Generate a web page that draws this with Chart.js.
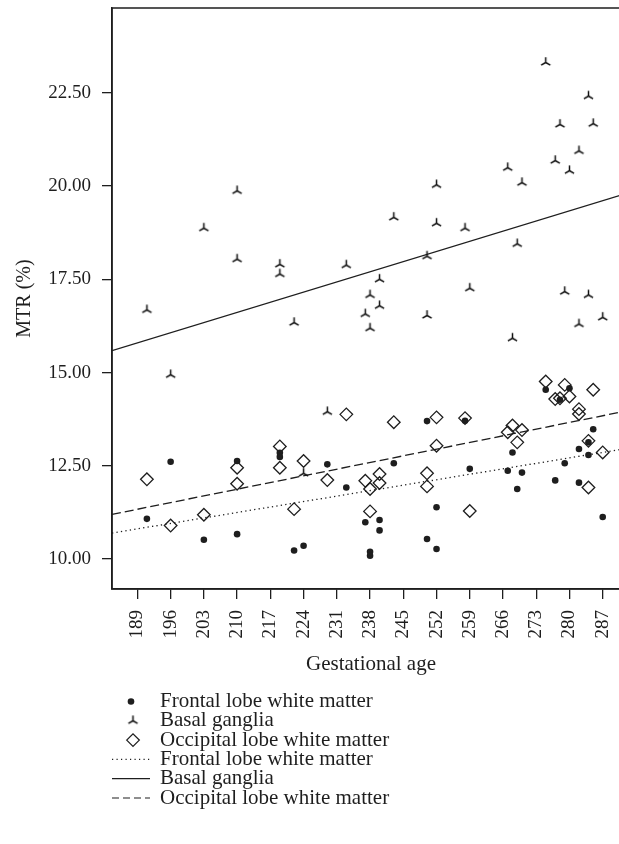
<!DOCTYPE html>
<html>
<head>
<meta charset="utf-8">
<script src="https://cdn.jsdelivr.net/npm/chart.js@4/dist/chart.umd.min.js"></script>
<style>
html,body{margin:0;padding:0;background:#fff;overflow:hidden;}
#wrap{width:640px;height:844px;}
</style>
</head>
<body>
<div id="wrap"><canvas id="c" width="640" height="844"></canvas></div>
<script>
// ---- data ----
const ages = [191,196,203,210,210,219,219,222,224,229,233,237,238,238,240,240,243,250,250,252,252,258,259,267,268,269,270,275,277,278,279,280,282,282,284,284,285,287];
const frontal = [11.08,12.61,10.52,12.63,10.67,12.85,12.74,10.23,10.36,12.54,11.92,10.99,10.20,10.09,11.05,10.77,12.57,13.70,10.54,11.39,10.27,13.71,12.42,12.37,12.86,11.88,12.32,14.54,12.11,14.27,12.57,14.58,12.95,12.05,13.13,12.79,13.48,11.13];
const basal = [16.68,14.94,18.87,19.87,18.04,17.90,17.64,16.34,12.30,13.95,17.88,16.57,17.08,16.19,17.50,16.79,19.16,18.12,16.53,20.03,19.00,18.87,17.26,20.49,15.92,18.45,20.09,23.31,20.68,21.65,17.17,20.41,20.94,16.30,22.41,17.08,21.67,16.48];
const occipital = [12.14,10.90,11.19,12.45,12.02,13.02,12.45,11.34,12.63,12.12,13.88,12.10,11.88,11.28,12.28,12.04,13.67,12.30,11.95,13.80,13.04,13.78,11.29,13.40,13.58,13.13,13.46,14.76,14.29,14.31,14.67,14.36,14.02,13.89,13.17,11.92,14.54,12.86];
const xTicks = [189,196,203,210,217,224,231,238,245,252,259,266,273,280,287];
const yTicks = [10,12.5,15,17.5,20,22.5];
const xRange = [183.65, 292.75];
const yRange = [9.2, 24.77];
// fitted lines: values at the left and right ends of the x range
const frontalFit = [10.70, 12.98];
const basalFit = [15.59, 19.83];
const occipitalFit = [11.20, 13.99];
const legendLabels = ['Frontal lobe white matter','Basal ganglia','Occipital lobe white matter','Frontal lobe white matter','Basal ganglia','Occipital lobe white matter'];

const INK = '#1e1e1e';
const FONT = 'Liberation Serif';

function tripodImage(){
  const c = document.createElement('canvas');
  c.width = 15; c.height = 15;
  const g = c.getContext('2d');
  g.strokeStyle = '#111'; g.lineWidth = 1.5;
  const r = 5.3, cx = 7.5, cy = 7.5, k = Math.cos(Math.PI/6);
  g.beginPath();
  g.moveTo(cx,cy); g.lineTo(cx,cy-r);
  g.moveTo(cx,cy); g.lineTo(cx-r*k,cy+r*0.5);
  g.moveTo(cx,cy); g.lineTo(cx+r*k,cy+r*0.5);
  g.stroke();
  return c;
}
const tripod = tripodImage();

const pts = arr => ages.map((a,i)=>({x:a,y:arr[i]}));
const fit = arr => [{x:xRange[0],y:arr[0]},{x:xRange[1],y:arr[1]}];

const extras = {
  id:'extras',
  afterDraw(chart){
    const ctx = chart.ctx, a = chart.chartArea;
    ctx.save();
    // plot frame
    ctx.strokeStyle = INK; ctx.lineWidth = 1.5;
    ctx.strokeRect(a.left, a.top, a.right - a.left, a.bottom - a.top);
    ctx.restore();

    // legend
    ctx.save();
    ctx.font = '21px "' + FONT + '"';
    ctx.fillStyle = INK; ctx.strokeStyle = INK;
    ctx.textAlign = 'left'; ctx.textBaseline = 'middle';
    const x0 = 133, tx = 160, y0 = 701.5, dy = 19.3;
    legendLabels.forEach((t,i)=>{
      ctx.fillText(t, tx, y0 + i*dy);
    });
    // markers
    ctx.beginPath(); ctx.arc(x0-2, y0, 3.3, 0, Math.PI*2); ctx.fill();
    ctx.drawImage(tripod, x0-7.5, y0+dy-7.5);
    ctx.lineWidth = 1.3;
    const yd = y0 + 2*dy, r = 6.3;
    ctx.beginPath(); ctx.moveTo(x0-r,yd); ctx.lineTo(x0,yd-r); ctx.lineTo(x0+r,yd); ctx.lineTo(x0,yd+r); ctx.closePath(); ctx.stroke();
    // line samples
    const dashes = [[1.2,3.3],[],[7,4]];
    dashes.forEach((d,i)=>{
      const y = y0 + (3+i)*dy;
      ctx.setLineDash(d); ctx.lineWidth = 1.2;
      ctx.beginPath(); ctx.moveTo(112,y); ctx.lineTo(150,y); ctx.stroke();
    });
    ctx.restore();
  }
};

new Chart(document.getElementById('c'), {
  type:'scatter',
  data:{
    datasets:[
      {label:'Frontal lobe white matter', data:pts(frontal), pointStyle:'circle', pointRadius:3.3, backgroundColor:INK, borderColor:INK, borderWidth:0},
      {label:'Basal ganglia', data:pts(basal), pointStyle:tripod, pointRadius:7},
      {label:'Occipital lobe white matter', data:pts(occipital), pointStyle:'rectRot', pointRadius:6.3, backgroundColor:'rgba(0,0,0,0)', borderColor:INK, borderWidth:1.3},
      {label:'Frontal fit', data:fit(frontalFit), showLine:true, pointRadius:0, borderColor:INK, borderWidth:1.3, borderDash:[1.3,3.2]},
      {label:'Basal fit', data:fit(basalFit), showLine:true, pointRadius:0, borderColor:INK, borderWidth:1.3},
      {label:'Occipital fit', data:fit(occipitalFit), showLine:true, pointRadius:0, borderColor:INK, borderWidth:1.3, borderDash:[9,4]}
    ]
  },
  options:{
    responsive:false, animation:false, devicePixelRatio:1,
    layout:{padding:{top:8,right:10,bottom:167,left:0}},
    plugins:{legend:{display:false}, tooltip:{enabled:false}},
    scales:{
      x:{
        type:'linear', min:xRange[0], max:xRange[1],
        afterBuildTicks: s => { s.ticks = xTicks.map(v=>({value:v})); },
        afterFit: s => { s.height = 88; s.paddingLeft = 0; s.paddingRight = 0; },
        ticks:{autoSkip:false, maxRotation:90, minRotation:90, padding:11, color:INK, font:{family:FONT, size:19}, callback:v=>String(v)},
        grid:{drawOnChartArea:false, drawTicks:true, tickLength:10, color:INK, lineWidth:1.3},
        border:{display:true, color:INK, width:1.5},
        title:{display:true, text:'Gestational age', color:INK, font:{family:FONT, size:21}, padding:{top:0,bottom:0}}
      },
      y:{
        type:'linear', min:yRange[0], max:yRange[1],
        afterBuildTicks: s => { s.ticks = yTicks.map(v=>({value:v})); },
        afterFit: s => { s.width = 112; s.paddingTop = 0; s.paddingBottom = 0; },
        ticks:{autoSkip:false, padding:11, color:INK, font:{family:FONT, size:19}, callback:v=>Number(v).toFixed(2)},
        grid:{drawOnChartArea:false, drawTicks:true, tickLength:10, color:INK, lineWidth:1.3},
        border:{display:true, color:INK, width:1.5},
        title:{display:true, text:'MTR (%)', color:INK, font:{family:FONT, size:20}, padding:{top:13,bottom:0}}
      }
    }
  },
  plugins:[extras]
});
</script>
</body>
</html>
